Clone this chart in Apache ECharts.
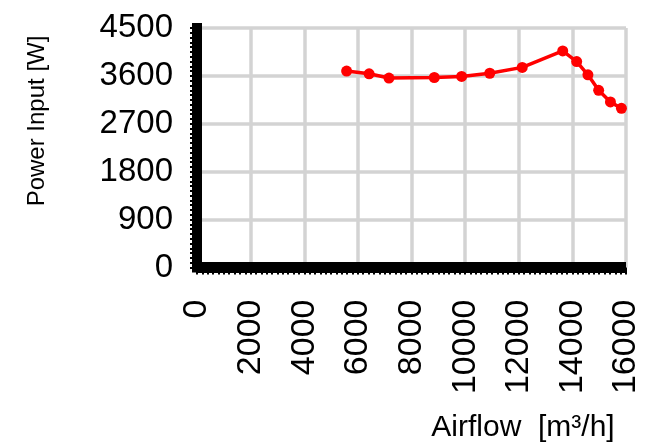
<!DOCTYPE html>
<html>
<head>
<meta charset="utf-8">
<script src="https://cdn.jsdelivr.net/npm/echarts@6/dist/echarts.min.js"></script>
<style>html,body{margin:0;padding:0;background:#fff;}#c{width:652px;height:444px;}</style>
</head>
<body>
<div id="c"></div>
<script>
const airflow = [5580, 6420, 7160, 8850, 9870, 10920, 12130, 13640, 14160, 14580, 14980, 15420, 15830];
const powerInput = [3690, 3640, 3560, 3570, 3590, 3650, 3760, 4070, 3870, 3620, 3330, 3110, 2990];
const xTicks = {min: 0, max: 16000, interval: 2000};
const yTicks = {min: 0, max: 4500, interval: 900};
const xName = 'Airflow  [m³/h]';
const yName = 'Power Input [W]';

const chart = echarts.init(document.getElementById('c'), null, {renderer: 'canvas'});
const font = '"Liberation Sans", Arial, sans-serif';
chart.setOption({
  animation: false,
  backgroundColor: '#fff',
  grid: {left: 197, right: 26, top: 28, bottom: 176.5},
  xAxis: {
    type: 'value', min: xTicks.min, max: xTicks.max, interval: xTicks.interval,
    axisLine: {show: true, lineStyle: {color: '#000', width: 11, cap: 'butt'}},
    axisTick: {show: true, length: 7, lineStyle: {color: '#000', width: 2}},
    minorTick: {show: true, splitNumber: 10, length: 7, lineStyle: {color: '#000', width: 2}},
    splitLine: {show: true, lineStyle: {color: '#d3d3d3', width: 3.5}},
    axisLabel: {rotate: 90, margin: 32, fontSize: 34, color: '#000', fontFamily: font,
                formatter: v => String(v)}
  },
  yAxis: {
    type: 'value', min: yTicks.min, max: yTicks.max, interval: yTicks.interval,
    axisLine: {show: true, lineStyle: {color: '#000', width: 10, cap: 'square'}},
    axisTick: {show: true, length: 7, lineStyle: {color: '#000', width: 2}},
    minorTick: {show: true, splitNumber: 10, length: 7, lineStyle: {color: '#000', width: 2}},
    splitLine: {show: true, lineStyle: {color: '#d3d3d3', width: 3.5}},
    axisLabel: {margin: 24, fontSize: 33, color: '#000', fontFamily: font,
                formatter: v => String(v)}
  },
  graphic: [
    {type: 'text', x: 37, y: 121, rotation: Math.PI / 2,
     style: {text: yName, fontSize: 24, fontFamily: font, fill: '#000', align: 'center', verticalAlign: 'middle'}},
    {type: 'text', x: 523, y: 428,
     style: {text: xName, fontSize: 30, fontFamily: font, fill: '#000', align: 'center', verticalAlign: 'middle'}}
  ],
  series: [{
    type: 'line',
    data: airflow.map((x, i) => [x, powerInput[i]]),
    symbol: 'circle', symbolSize: 11,
    lineStyle: {color: '#ff0000', width: 3.5},
    itemStyle: {color: '#ff0000'}
  }]
});
</script>
</body>
</html>
